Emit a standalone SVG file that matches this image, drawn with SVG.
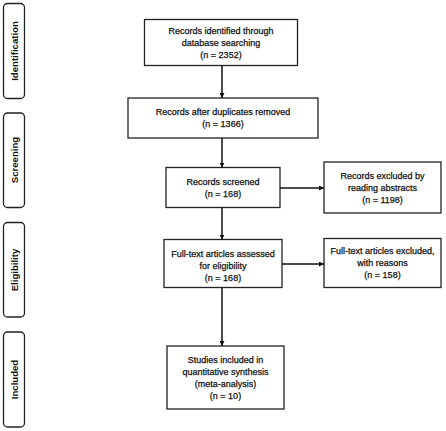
<svg xmlns="http://www.w3.org/2000/svg" width="446" height="431" viewBox="0 0 446 431">
<defs>
<marker id="ah" viewBox="0 0 10 10" refX="10" refY="5" markerWidth="5" markerHeight="5" orient="auto" markerUnits="userSpaceOnUse">
<path d="M0,0 L10,5 L0,10 z" fill="#111"/>
</marker>
<style>
.box{fill:#fff;stroke:#222;stroke-width:1.3}
.side{fill:#fff;stroke:#222;stroke-width:1.3}
.t{font-family:"Liberation Sans",Arial,sans-serif;font-size:9px;fill:#111;stroke:#111;stroke-width:0.25;text-anchor:middle}
.s{font-family:"Liberation Sans",Arial,sans-serif;font-size:9.6px;font-weight:bold;fill:#111;text-anchor:middle}
.c{stroke:#111;stroke-width:1.5;fill:none;marker-end:url(#ah)}
</style>
</defs>
<rect width="446" height="431" fill="#fff"/>
<g id="side-identification"><rect class="side" x="3.5" y="3.5" width="21" height="95" rx="4"/><text class="s" transform="translate(17.5,51) rotate(-90)">Identification</text></g>
<g id="side-screening"><rect class="side" x="3.5" y="113" width="21" height="94.5" rx="4"/><text class="s" transform="translate(17.5,160) rotate(-90)">Screening</text></g>
<g id="side-eligibility"><rect class="side" x="3.5" y="222.5" width="21" height="94.5" rx="4"/><text class="s" transform="translate(17.5,270) rotate(-90)">Eligibility</text></g>
<g id="side-included"><rect class="side" x="3.5" y="332" width="21" height="95" rx="4"/><text class="s" transform="translate(17.5,379.5) rotate(-90)">Included</text></g>
<g id="n1"><rect class="box" x="144.5" y="19.5" width="153" height="46"/>
<text class="t" x="221" y="34">Records identified through</text>
<text class="t" x="221" y="46">database searching</text>
<text class="t" x="221" y="58">(n = 2352)</text></g>
<g id="n2"><rect class="box" x="128" y="98" width="190" height="40"/>
<text class="t" x="223" y="115">Records after duplicates removed</text>
<text class="t" x="223" y="127">(n = 1366)</text></g>
<g id="n3"><rect class="box" x="166" y="167.5" width="114" height="40"/>
<text class="t" x="223" y="185">Records screened</text>
<text class="t" x="223" y="197">(n = 168)</text></g>
<g id="n4"><rect class="box" x="164" y="239.5" width="118" height="48"/>
<text class="t" x="223" y="257">Full-text articles assessed</text>
<text class="t" x="223" y="269">for eligibility</text>
<text class="t" x="223" y="281">(n = 168)</text></g>
<g id="n5"><rect class="box" x="167" y="346" width="117" height="63"/>
<text class="t" x="225.5" y="363">Studies included in</text>
<text class="t" x="225.5" y="375">quantitative synthesis</text>
<text class="t" x="225.5" y="387">(meta-analysis)</text>
<text class="t" x="225.5" y="399">(n = 10)</text></g>
<g id="x1"><rect class="box" x="324" y="162" width="117" height="51"/>
<text class="t" x="382.5" y="179">Records excluded by</text>
<text class="t" x="382.5" y="191">reading abstracts</text>
<text class="t" x="382.5" y="203">(n = 1198)</text></g>
<g id="x2"><rect class="box" x="324" y="238.5" width="117" height="49"/>
<text class="t" x="382.5" y="254">Full-text articles excluded,</text>
<text class="t" x="382.5" y="266">with reasons</text>
<text class="t" x="382.5" y="278">(n = 158)</text></g>
<g id="connectors">
<line class="c" x1="222" y1="65.5" x2="222" y2="98"/>
<line class="c" x1="222" y1="138" x2="222" y2="167.5"/>
<line class="c" x1="222" y1="207.5" x2="222" y2="239.5"/>
<line class="c" x1="222" y1="287.5" x2="222" y2="346"/>
<line class="c" x1="280" y1="188" x2="324" y2="188"/>
<line class="c" x1="282" y1="264" x2="324" y2="264"/>
</g>
</svg>
